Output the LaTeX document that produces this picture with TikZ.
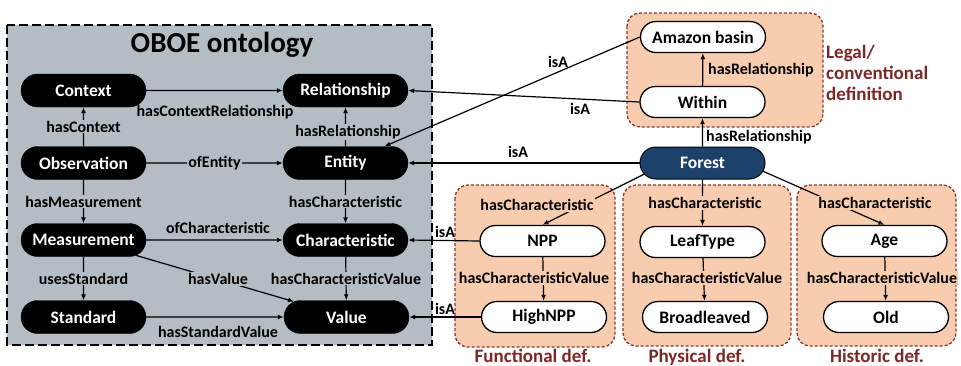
\documentclass[tikz,border=0pt]{standalone}
\usepackage{fontspec}
\setmainfont{Carlito}
\usetikzlibrary{shapes.misc,arrows.meta,calc}
\definecolor{oboegray}{RGB}{180,188,196}
\definecolor{peach}{RGB}{248,204,174}
\definecolor{boxred}{RGB}{135,55,45}
\definecolor{txtred}{RGB}{125,38,38}
\definecolor{forestblue}{RGB}{28,66,108}
\begin{document}
\begin{tikzpicture}[x=1pt,y=-1pt,
  nfont/.style={font=\bfseries\fontsize{17.5}{19}\selectfont},
  blk/.style={rounded rectangle, fill=black, draw=black, text=white, nfont,
    minimum width=125pt, minimum height=33pt, inner sep=0pt},
  wht/.style={rounded rectangle, fill=white, draw=black, line width=1.3pt, nfont,
    minimum width=125pt, minimum height=31pt, inner sep=0pt},
  fst/.style={rounded rectangle, fill=forestblue, draw=black, line width=1pt, text=white, nfont,
    minimum width=125pt, minimum height=32pt, inner sep=0pt},
  lbl/.style={font=\bfseries\fontsize{16}{18}\selectfont, inner sep=1pt},
  glbl/.style={lbl, fill=oboegray},
  plbl/.style={lbl, fill=peach},
  arr/.style={line width=1.2pt, -{Latex[length=6pt,width=5pt]}},
  grp/.style={rounded corners=13pt, fill=peach, draw=boxred, line width=1.3pt, dash pattern=on 3pt off 2pt},
  capt/.style={text=txtred, font=\bfseries\fontsize{19}{21}\selectfont, inner sep=0pt}
]
\useasboundingbox (0,0) rectangle (961,365);

% OBOE box
\draw[fill=oboegray, line width=1.5pt, dash pattern=on 9pt off 4pt] (7,25) rectangle (432,345);
\node[font=\bfseries\fontsize{29}{31}\selectfont] (title) at (222,45) {OBOE ontology};

% group boxes
\draw[grp] (627,13) rectangle (823,127);
\draw[grp] (455,185) rectangle (615,347);
\draw[grp] (623,185) rectangle (791,346);
\draw[grp] (797,185) rectangle (956,346);

\node[capt, anchor=west, align=left] (legal) at (826,73) {Legal/\\conventional\\definition};
\node[capt, anchor=base] (funct) at (533,362) {Functional def.};
\node[capt, anchor=base] (phys) at (697,362) {Physical def.};
\node[capt, anchor=base] (hist) at (877,362) {Historic def.};

% OBOE nodes
\node[blk] (Context) at (83.5,90.5) {Context};
\node[blk] (Relationship) at (345.5,90.5) {Relationship};
\node[blk] (Observation) at (83.5,163) {Observation};
\node[blk] (Entity) at (345.5,163) {Entity};
\node[blk] (Measurement) at (83.5,240) {Measurement};
\node[blk] (Characteristic) at (345.5,240) {Characteristic};
\node[blk] (Standard) at (83.5,317) {Standard};
\node[blk] (Value) at (346.5,317) {Value};

% right nodes
\node[wht] (Amazon) at (703,37) {Amazon basin};
\node[wht] (Within) at (702.5,102) {Within};
\node[fst] (Forest) at (702.5,163) {Forest};
\node[wht] (NPP) at (542.5,241) {NPP};
\node[wht] (HighNPP) at (544,317) {HighNPP};
\node[wht] (LeafType) at (702.5,242) {LeafType};
\node[wht] (Broadleaved) at (705,317) {Broadleaved};
\node[wht] (Age) at (884.5,241) {Age};
\node[wht] (Old) at (886,317) {Old};

% OBOE edges
\draw[arr] (Context) -- (Relationship);
\node[lbl] (lCR) at (215,112) {hasContextRelationship};
\draw[arr] (Observation) -- node[glbl] (lC) {hasContext} (Context);
\draw[arr] (Entity) -- (Relationship);
\node[glbl] (lR) at (348,132) {hasRelationship};
\draw[arr] (Observation) -- node[glbl] (lE) {ofEntity} (Entity);
\draw[arr] (Observation) -- node[glbl] (lM) {hasMeasurement} (Measurement);
\draw[arr] (Entity) -- node[glbl] (lCh) {hasCharacteristic} (Characteristic);
\draw[arr] (Measurement) -- (Characteristic);
\node[lbl] (lOC) at (218,228) {ofCharacteristic};
\draw[arr] (Measurement) -- (Value);
\node[glbl] (lV) at (218,279) {hasValue};
\draw[arr] (Measurement) -- node[glbl] (lS) {usesStandard} (Standard);
\draw[arr] (Characteristic) -- node[glbl] (lCV) {hasCharacteristicValue} (Value);
\draw[arr] (Standard) -- (Value);
\node[lbl] (lSV) at (218,332) {hasStandardValue};

% right edges
\draw[arr] (Within) -- (Amazon);
\node[lbl, anchor=west] (lWA) at (707,70) {hasRelationship};
\draw[arr] (Forest) -- (Within);
\node[lbl, anchor=west] (lFW) at (705,137) {hasRelationship};

\draw[arr] (Amazon.west) -- (Entity);
\node[lbl] (i1) at (558,62) {isA};
\draw[arr] (Within.west) -- (Relationship.east);
\node[lbl] (i2) at (580,109) {isA};
\draw[arr] (Forest.west) -- (Entity.east);
\node[lbl] (i3) at (518,152) {isA};
\draw[arr] (NPP.west) -- (Characteristic.east);
\node[lbl] (i4) at (445,232) {isA};
\draw[arr] (HighNPP.west) -- (Value.east);
\node[lbl] (i5) at (445,309) {isA};

\coordinate (fl) at ($(Forest.west)+(5,11)$);
\coordinate (fr) at ($(Forest.east)+(-3,8)$);
\draw[arr] (fl) -- (NPP.north);
\node[plbl] (h1) at (537,205) {hasCharacteristic};
\draw[arr] (Forest) -- (LeafType);
\node[plbl] (h2) at (705,203) {hasCharacteristic};
\draw[arr] (fr) -- (Age.north);
\node[plbl] (h3) at (875,203) {hasCharacteristic};

\draw[arr] (NPP) -- (HighNPP);
\node[plbl] (v1) at (534,278) {hasCharacteristicValue};
\draw[arr] (LeafType) -- (Broadleaved);
\node[plbl] (v2) at (707,278) {hasCharacteristicValue};
\draw[arr] (Age) -- (Old);
\node[plbl] (v3) at (882,278) {hasCharacteristicValue};
\end{tikzpicture}
\end{document}
